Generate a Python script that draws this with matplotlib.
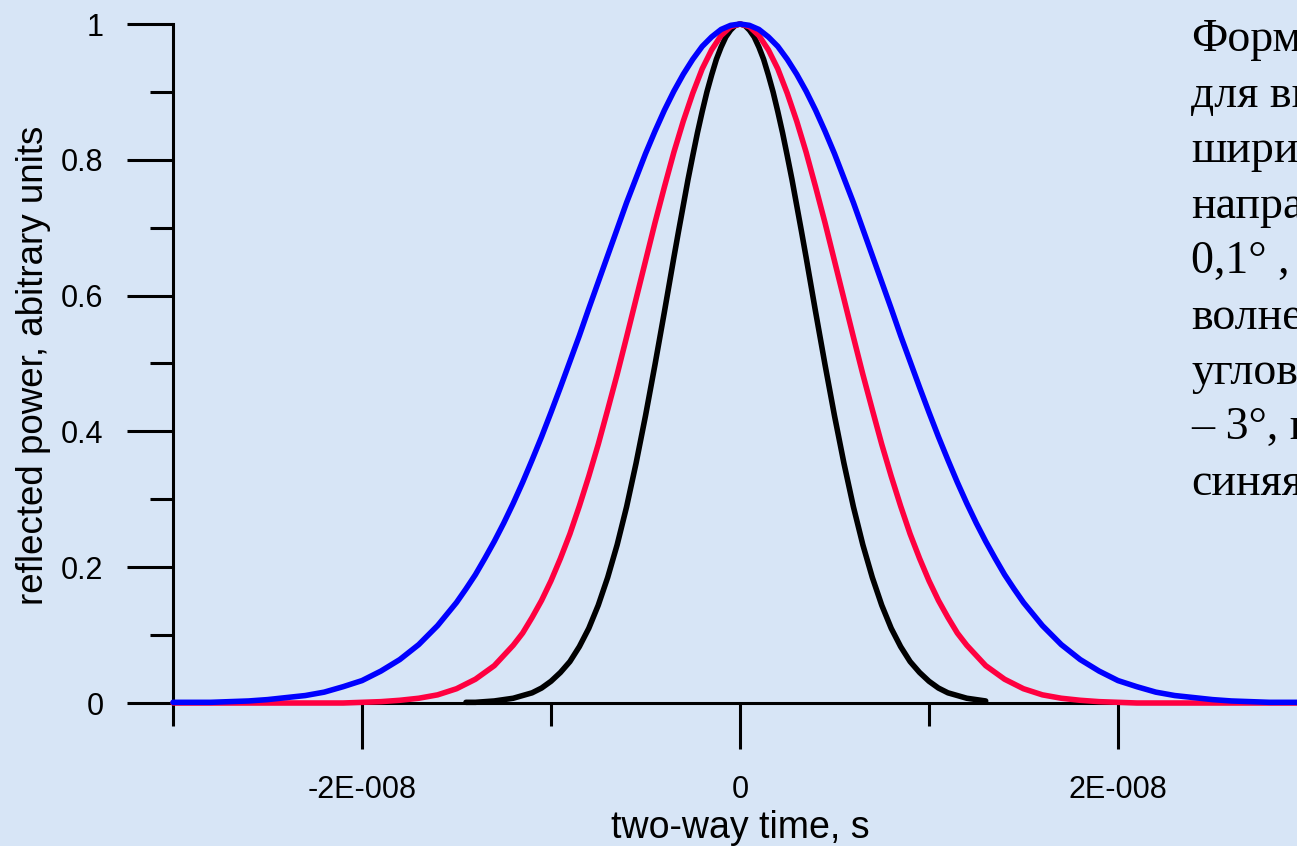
import numpy as np
import matplotlib.pyplot as plt
from matplotlib.ticker import FixedLocator

# pulse shapes, time in ns
t_blue = [-30, -29, -28, -27, -26, -25, -24, -23, -22, -21, -20, -19, -18, -17, -16, -15,
          -14.5, -14, -13.5, -13, -12.5, -12, -11.5, -11, -10.5, -10, -9.5, -9, -8.5, -8,
          -7.5, -7, -6.5, -6, -5.5, -5, -4.5, -4, -3.5, -3, -2.5, -2, -1.5, -1, -0.5, 0,
          0.5, 1, 1.5, 2, 2.5, 3, 3.5, 4, 4.5, 5, 5.5, 6, 6.5, 7, 7.5, 8, 8.5, 9, 9.5,
          10, 10.5, 11, 11.5, 12, 12.5, 13, 13.5, 14, 14.5,
          15, 16, 17, 18, 19, 20, 21, 22, 23, 24, 25, 26, 27, 28, 29, 30, 31]
blue = [0.001, 0.001, 0.001, 0.002, 0.003, 0.005, 0.008, 0.011, 0.016, 0.024, 0.033,
        0.047, 0.064, 0.086, 0.114, 0.148,
        0.168, 0.189, 0.213, 0.238, 0.265, 0.294, 0.325, 0.358, 0.392, 0.428, 0.465,
        0.503, 0.541, 0.581, 0.620, 0.659, 0.698, 0.737, 0.773, 0.809, 0.842, 0.873,
        0.901, 0.926, 0.948, 0.967, 0.981, 0.992, 0.998, 1.0,
        0.998, 0.992, 0.981, 0.967, 0.948, 0.926, 0.901, 0.873, 0.842, 0.809, 0.773,
        0.737, 0.698, 0.659, 0.620, 0.581, 0.541, 0.503, 0.465, 0.428, 0.392, 0.358,
        0.325, 0.294, 0.265, 0.238, 0.213, 0.189, 0.168,
        0.148, 0.114, 0.086, 0.064, 0.047, 0.033, 0.024, 0.016, 0.011, 0.008, 0.005,
        0.003, 0.002, 0.001, 0.001, 0.001, 0.0]

t_red = [-30, -29, -28, -27, -26, -25, -24, -23, -22, -21, -20, -19, -18, -17, -16, -15,
         -14, -13, -12,
         -11.5, -11, -10.5, -10, -9.5, -9, -8.5, -8, -7.5, -7, -6.5, -6, -5.5, -5, -4.5,
         -4, -3.5, -3, -2.5, -2, -1.5, -1, -0.5, 0, 0.5, 1, 1.5, 2, 2.5, 3, 3.5, 4,
         4.5, 5, 5.5, 6, 6.5, 7, 7.5, 8, 8.5, 9, 9.5, 10, 10.5, 11, 11.5,
         12, 13, 14, 15, 16, 17, 18, 19, 20, 21, 22, 23, 24, 25, 26, 27, 28, 29, 30, 31]
red = [0.0, 0.0, 0.0, 0.0, 0.0, 0.0, 0.0, 0.0, 0.0, 0.0, 0.001, 0.002, 0.004, 0.007,
       0.012, 0.021, 0.035, 0.055, 0.085,
       0.103, 0.126, 0.151, 0.180, 0.213, 0.249, 0.290, 0.334, 0.381, 0.432, 0.484,
       0.539, 0.595, 0.651, 0.707, 0.760, 0.811, 0.857, 0.898, 0.934, 0.962, 0.983,
       0.996, 1.0, 0.996, 0.983, 0.962, 0.934, 0.898, 0.857, 0.811, 0.760, 0.707,
       0.651, 0.595, 0.539, 0.484, 0.432, 0.381, 0.334, 0.290, 0.249, 0.213, 0.180,
       0.151, 0.126, 0.103,
       0.085, 0.055, 0.035, 0.021, 0.012, 0.007, 0.004, 0.002, 0.001, 0.0, 0.0, 0.0,
       0.0, 0.0, 0.0, 0.0, 0.0, 0.0, 0.0, 0.0]

t_black = [-14.5, -14, -13.5, -13, -12.5, -12, -11.5, -11, -10.5, -10, -9.5, -9, -8.5,
           -8, -7.5, -7, -6.5, -6, -5.5, -5, -4.5, -4, -3.5,
           -3.25, -3, -2.75, -2.5, -2.25, -2, -1.75, -1.5, -1.25, -1, -0.75, -0.5, -0.25,
           0, 0.25, 0.5, 0.75, 1, 1.25, 1.5, 1.75, 2, 2.25, 2.5, 2.75, 3, 3.25,
           3.5, 4, 4.5, 5, 5.5, 6, 6.5, 7, 7.5, 8, 8.5, 9, 9.5, 10, 10.5, 11, 11.5, 12,
           12.5, 13]
black = [0.001, 0.001, 0.002, 0.003, 0.005, 0.007, 0.011, 0.015, 0.022, 0.032, 0.045,
         0.061, 0.083, 0.110, 0.144, 0.185, 0.233, 0.289, 0.353, 0.423, 0.498, 0.576,
         0.656,
         0.695, 0.733, 0.771, 0.806, 0.840, 0.871, 0.900, 0.925, 0.948, 0.966, 0.981,
         0.991, 0.998, 1.0, 0.998, 0.991, 0.981, 0.966, 0.948, 0.925, 0.900, 0.871,
         0.840, 0.806, 0.771, 0.733, 0.695,
         0.656, 0.576, 0.498, 0.423, 0.353, 0.289, 0.233, 0.185, 0.144, 0.110, 0.083,
         0.061, 0.045, 0.032, 0.022, 0.015, 0.011, 0.007, 0.005, 0.003]

x_major = [-2e-8, 0, 2e-8]
x_major_labels = ["-2E-008", "0", "2E-008"]
x_minor = [-3e-8, -1e-8, 1e-8, 3e-8]
y_major = [0, 0.2, 0.4, 0.6, 0.8, 1]
y_major_labels = ["0", "0.2", "0.4", "0.6", "0.8", "1"]
y_minor = [0.1, 0.3, 0.5, 0.7, 0.9]

side_text = ["Форма", "для выс", "ширины", "направ", "0,1° , в",
             "волнения", "угловым", "– 3°, к", "синяя"]

bg = "#d7e5f6"
W, H = 1297, 846
fig = plt.figure(figsize=(W / 100, H / 100), dpi=100, facecolor=bg)
ax = fig.add_axes([173 / W, 1 - 703 / H, (1307 - 173) / W, 679 / H])
ax.patch.set_alpha(0)

lw = 4.0
style = dict(lw=lw, clip_on=False, solid_capstyle="round", solid_joinstyle="round")
ax.plot(np.array(t_black) * 1e-9, black, color="black", zorder=3, **style)
ax.plot(np.array(t_red) * 1e-9, red, color="#ff0040", zorder=4, **style)
ax.plot(np.array(t_blue) * 1e-9, blue, color="#0000ff", zorder=5, **style)

ax.set_xlim(-3e-8, 3e-8)
ax.set_ylim(0, 1)
for s in ["top", "right"]:
    ax.spines[s].set_visible(False)
for s in ["left", "bottom"]:
    ax.spines[s].set_linewidth(2.2)
    ax.spines[s].set_zorder(2)

ax.xaxis.set_major_locator(FixedLocator(x_major))
ax.xaxis.set_minor_locator(FixedLocator(x_minor))
ax.set_xticklabels(x_major_labels)
ax.yaxis.set_major_locator(FixedLocator(y_major))
ax.yaxis.set_minor_locator(FixedLocator(y_minor))
ax.set_yticklabels(y_major_labels)

ax.tick_params(which="major", length=33, width=2.2, direction="out")
ax.tick_params(which="minor", length=16.5, width=2.2, direction="out")
ax.tick_params(axis="x", which="major", pad=19)
ax.tick_params(axis="y", which="major", pad=17)
for lab in ax.get_xticklabels() + ax.get_yticklabels():
    lab.set_fontfamily("Liberation Sans")
    lab.set_fontsize(22)

fig.text(34 / W, 1 - 365 / H, "reflected power, abitrary units", rotation=90,
         ha="center", va="center", fontsize=26.5, family="Liberation Sans")
fig.text(740 / W, 1 - 838 / H, "two-way time, s", ha="center", va="baseline",
         fontsize=27, family="Liberation Sans")

for i, line in enumerate(side_text):
    fig.text(1191 / W, 1 - (51 + 55.5 * i) / H, line, ha="left", va="baseline",
             fontsize=33, family="Liberation Serif")

fig.savefig("out.png", dpi=100, facecolor=bg)
